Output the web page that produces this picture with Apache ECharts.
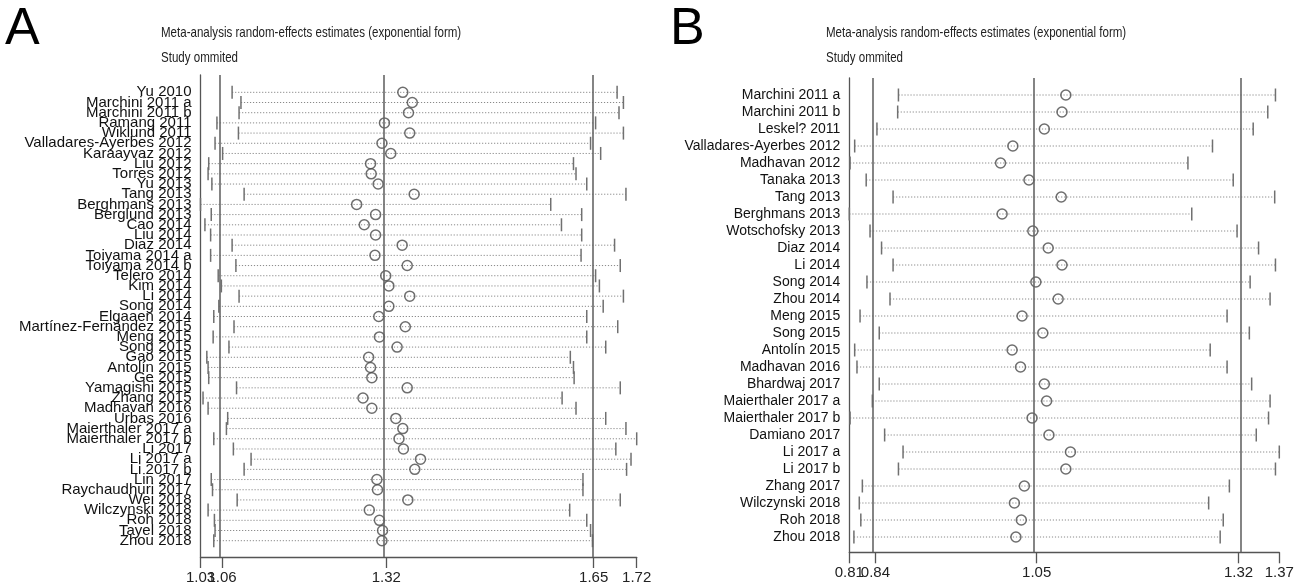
<!DOCTYPE html>
<html>
<head>
<meta charset="utf-8">
<title>Study omitted sensitivity plots</title>
<script src="https://cdn.jsdelivr.net/npm/echarts@6/dist/echarts.min.js"></script>
<style>
  html, body { margin: 0; padding: 0; background: #fff; }
  #chart { width: 1306px; height: 588px; }
</style>
</head>
<body>
<div id="chart"></div>
<script>
// Panel A - studies and (estimate, CI) when each study is omitted
const studiesA = [
  'Yu 2010', 'Marchini 2011 a', 'Marchini 2011 b', 'Ramang 2011', 'Wiklund 2011',
  'Valladares-Ayerbes 2012', 'Karaayvaz 2012', 'Liu 2012', 'Torres 2012', 'Yu 2013',
  'Tang 2013', 'Berghmans 2013', 'Berglund 2013', 'Cao 2014', 'Liu 2014',
  'Diaz 2014', 'Toiyama 2014 a', 'Toiyama 2014 b', 'Telero 2014', 'Kim 2014',
  'Li 2014', 'Song 2014', 'Elgaaen 2014', 'Martínez-Fernández 2015', 'Meng 2015',
  'Song 2015', 'Gao 2015', 'Antolín 2015', 'Ge 2015', 'Yamagishi 2015',
  'Zhang 2015', 'Madhavan 2016', 'Urbas 2016', 'Maierthaler 2017 a', 'Maierthaler 2017 b',
  'Li 2017', 'Li 2017 a', 'Li 2017 b', 'Lin 2017', 'Raychaudhuri 2017',
  'Wei 2018', 'Wilczynski 2018', 'Roh 2018', 'Tayel 2018', 'Zhou 2018'
]
const lowerA = [
  1.080, 1.094, 1.091, 1.056, 1.090, 1.053, 1.065, 1.043, 1.042, 1.048,
  1.099, 1.030, 1.047, 1.037, 1.046, 1.080, 1.046, 1.086, 1.058, 1.063,
  1.091, 1.059, 1.051, 1.083, 1.050, 1.075, 1.040, 1.042, 1.043, 1.087,
  1.034, 1.042, 1.073, 1.071, 1.051, 1.082, 1.110, 1.099, 1.047, 1.049,
  1.088, 1.042, 1.052, 1.053, 1.051
]
const estA = [
  1.350, 1.365, 1.359, 1.321, 1.361, 1.317, 1.331, 1.299, 1.300, 1.311,
  1.368, 1.277, 1.307, 1.289, 1.307, 1.349, 1.306, 1.357, 1.323, 1.328,
  1.361, 1.328, 1.312, 1.354, 1.313, 1.341, 1.296, 1.299, 1.301, 1.357,
  1.287, 1.301, 1.339, 1.350, 1.344, 1.351, 1.378, 1.369, 1.309, 1.310,
  1.358, 1.297, 1.313, 1.318, 1.317
]
const upperA = [
  1.689, 1.699, 1.692, 1.655, 1.699, 1.647, 1.663, 1.620, 1.624, 1.641,
  1.703, 1.584, 1.633, 1.601, 1.633, 1.685, 1.632, 1.694, 1.655, 1.661,
  1.699, 1.667, 1.641, 1.690, 1.641, 1.671, 1.615, 1.620, 1.621, 1.694,
  1.602, 1.624, 1.671, 1.703, 1.720, 1.687, 1.711, 1.704, 1.635, 1.635,
  1.694, 1.614, 1.641, 1.647, 1.650
]
const refLinesA = [1.064, 1.324, 1.652]
const tickValsA = [1.03, 1.064, 1.324, 1.652, 1.72]
const tickLabelsA = ['1.03', '1.06', '1.32', '1.65', '1.72']

// Panel B
const studiesB = [
  'Marchini 2011 a', 'Marchini 2011 b', 'Leskel? 2011', 'Valladares-Ayerbes 2012', 'Madhavan 2012',
  'Tanaka 2013', 'Tang 2013', 'Berghmans 2013', 'Wotschofsky 2013', 'Diaz 2014',
  'Li 2014', 'Song 2014', 'Zhou 2014', 'Meng 2015', 'Song 2015',
  'Antolín 2015', 'Madhavan 2016', 'Bhardwaj 2017', 'Maierthaler 2017 a', 'Maierthaler 2017 b',
  'Damiano 2017', 'Li 2017 a', 'Li 2017 b', 'Zhang 2017', 'Wilczynski 2018',
  'Roh 2018', 'Zhou 2018'
]
const lowerB = [
  0.874, 0.873, 0.846, 0.817, 0.811, 0.832, 0.867, 0.810, 0.837, 0.852,
  0.867, 0.833, 0.863, 0.824, 0.849, 0.817, 0.820, 0.849, 0.840, 0.811,
  0.856, 0.880, 0.874, 0.827, 0.823, 0.825, 0.816
]
const estB = [
  1.092, 1.087, 1.064, 1.023, 1.007, 1.044, 1.086, 1.009, 1.049, 1.069,
  1.087, 1.053, 1.082, 1.035, 1.062, 1.022, 1.033, 1.064, 1.067, 1.048,
  1.070, 1.098, 1.092, 1.038, 1.025, 1.034, 1.027
]
const upperB = [
  1.365, 1.355, 1.336, 1.283, 1.251, 1.310, 1.364, 1.256, 1.315, 1.343,
  1.365, 1.332, 1.358, 1.302, 1.331, 1.280, 1.302, 1.334, 1.358, 1.356,
  1.340, 1.370, 1.365, 1.305, 1.278, 1.297, 1.293
]
const refLinesB = [0.844, 1.054, 1.317]
const tickValsB = [0.81, 0.844, 1.054, 1.317, 1.37]
const tickLabelsB = ['0.81', '0.84', '1.05', '1.32', '1.37']

const sans = "'Liberation Sans Narrow', 'Liberation Sans', Arial, sans-serif"
const chart = echarts.init(document.getElementById('chart'), null, { renderer: 'canvas' })

// dotted CI line with end ticks
const ciRender = (params, api) => {
  const i = api.value(0)
  const p1 = api.coord([api.value(1), i])
  const p2 = api.coord([api.value(2), i])
  const h = 6.5
  return {
    type: 'group',
    children: [
      { type: 'line', shape: { x1: p1[0], y1: p1[1], x2: p2[0], y2: p2[1] },
        style: { stroke: '#8a8a8a', lineWidth: 1, lineDash: [1.2, 1.8] } },
      { type: 'line', shape: { x1: p1[0], y1: p1[1] - h, x2: p1[0], y2: p1[1] + h },
        style: { stroke: '#707070', lineWidth: 1.5 } },
      { type: 'line', shape: { x1: p2[0], y1: p2[1] - h, x2: p2[0], y2: p2[1] + h },
        style: { stroke: '#707070', lineWidth: 1.5 } }
    ]
  }
}

// ECharts drops a label that overlaps the first/last one; labels overlap on
// purpose here (like Stata), so an empty label is slipped in next to each end
const EPS = 1e-5
const makeX = (idx, lower, upper, ticks, labels) => {
  const min = Math.min(...lower)
  const max = Math.max(...upper)
  const n = ticks.length
  const vals = [ticks[0], min + EPS, ...ticks.slice(1, n - 1), max - EPS, ticks[n - 1]]
  return {
    type: 'value',
    gridIndex: idx,
    min: min,
    max: max,
    axisLine: { show: true, onZero: false, lineStyle: { color: '#555', width: 1.3 } },
    axisTick: { show: true, customValues: ticks, length: 11, lineStyle: { color: '#555', width: 1.3 } },
    axisLabel: {
      customValues: vals,
      showMinLabel: true,
      showMaxLabel: true,
      hideOverlap: false,
      margin: 13,
      fontSize: 15,
      fontFamily: sans,
      color: '#222',
      formatter: (v) => {
        const k = ticks.findIndex((t) => Math.abs(t - v) < 1e-7)
        return k >= 0 ? labels[k] : ''
      }
    },
    splitLine: { show: false }
  }
}

const makeY = (idx, names, min, max, size) => ({
  type: 'value',
  gridIndex: idx,
  inverse: true,
  min: min,
  max: max,
  axisLine: { show: true, onZero: false, lineStyle: { color: '#555', width: 1.3 } },
  axisTick: { show: false },
  splitLine: { show: false },
  axisLabel: {
    customValues: [min, ...names.map((_, i) => i), max],
    showMinLabel: true,
    showMaxLabel: true,
    hideOverlap: false,
    formatter: (v) => (Number.isInteger(v) ? names[v] : ''),
    margin: 9,
    fontSize: size,
    fontFamily: sans,
    color: '#111'
  }
})

const makeSeries = (idx, names, lower, est, upper, refs) => [
  {
    type: 'custom',
    xAxisIndex: idx,
    yAxisIndex: idx,
    renderItem: ciRender,
    encode: { x: [1, 2], y: 0 },
    data: names.map((_, i) => [i, lower[i], upper[i]]),
    silent: true
  },
  {
    type: 'scatter',
    xAxisIndex: idx,
    yAxisIndex: idx,
    symbol: 'circle',
    symbolSize: 10,
    itemStyle: { color: 'rgba(255,255,255,0)', borderColor: '#4a4a4a', borderWidth: 1.5 },
    data: names.map((_, i) => [est[i], i]),
    markLine: {
      silent: true,
      symbol: ['none', 'none'],
      label: { show: false },
      lineStyle: { color: '#666', width: 1.6, type: 'solid' },
      data: refs.map((v) => ({ xAxis: v }))
    },
    z: 3
  }
]

// panel letters and the two title lines, drawn narrow like the original
const headText = (x, letter) => [
  { type: 'text', left: x, top: 4,
    style: { text: letter, font: "52px 'Liberation Sans', Arial, sans-serif", fill: '#000' } },
  { type: 'text', left: x + 156, top: 25, scaleX: 0.77,
    style: { text: 'Meta-analysis random-effects estimates (exponential form)', font: "15px 'Liberation Sans', Arial, sans-serif", fill: '#222' } },
  { type: 'text', left: x + 156, top: 50, scaleX: 0.77,
    style: { text: 'Study ommited', font: "15px 'Liberation Sans', Arial, sans-serif", fill: '#222' } }
]

chart.setOption({
  animation: false,
  graphic: [...headText(5, 'A'), ...headText(670, 'B')],
  grid: [
    { left: 200.5, top: 75, width: 436.2, height: 482 },
    { left: 849.3, top: 78, width: 430, height: 474.3 }
  ],
  xAxis: [
    makeX(0, lowerA, upperA, tickValsA, tickLabelsA),
    makeX(1, lowerB, upperB, tickValsB, tickLabelsB)
  ],
  yAxis: [
    makeY(0, studiesA, -1.7, 45.6, 15),
    makeY(1, studiesB, -1.0, 26.9, 14)
  ],
  series: [
    ...makeSeries(0, studiesA, lowerA, estA, upperA, refLinesA),
    ...makeSeries(1, studiesB, lowerB, estB, upperB, refLinesB)
  ]
})
</script>
</body>
</html>
